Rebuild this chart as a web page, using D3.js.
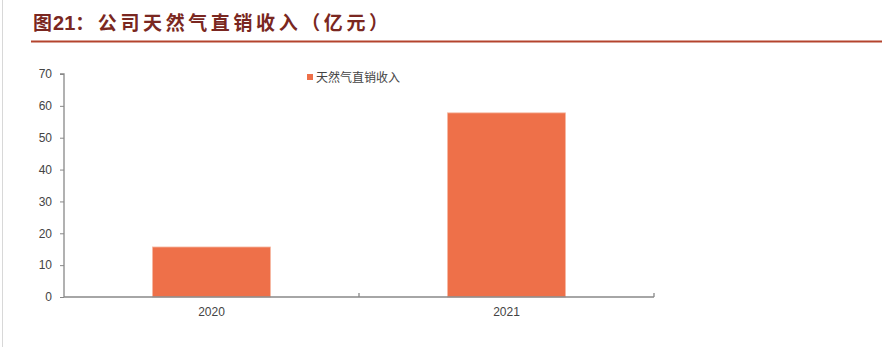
<!DOCTYPE html>
<html><head><meta charset="utf-8">
<script src="https://cdn.jsdelivr.net/npm/d3@7/dist/d3.min.js"></script>
<style>
html,body{margin:0;padding:0;background:#fff;}
svg{display:block;}
</style></head>
<body>
<svg id="chart" width="882" height="347"></svg>
<script>
const titlePrefix = "图";
const titleNumber = "21";
const titleRest = "：公司天然气直销收入（亿元）";
const seriesName = "天然气直销收入";
const categories = ["2020", "2021"];
const values = [15.7, 57.8];
const yTicks = [0, 10, 20, 30, 40, 50, 60, 70];

const svg = d3.select("#chart");
const font = "'Liberation Sans', Arial, 'Noto Sans CJK SC', sans-serif";

// left page border
svg.append("line").attr("x1", 2.5).attr("x2", 2.5).attr("y1", 0).attr("y2", 347)
  .attr("stroke", "#d8d8d8").attr("stroke-width", 1);

// title
const t = svg.append("text").attr("x", 33).attr("y", 30)
  .attr("font-family", "'Noto Sans CJK SC', sans-serif")
  .attr("font-weight", "bold").attr("font-size", 19)
  .attr("fill", "#7a2721");
t.append("tspan").attr("letter-spacing", 1).text(titlePrefix);
t.append("tspan").attr("font-family", "'Liberation Sans', Arial, sans-serif").attr("font-size", 20).attr("letter-spacing", 0).text(titleNumber);
t.append("tspan").attr("letter-spacing", 3.6).text(titleRest);
svg.append("line").attr("x1", 31).attr("x2", 882).attr("y1", 41.5).attr("y2", 41.5)
  .attr("stroke", "#b4442e").attr("stroke-width", 2);

const x0 = 64, x1 = 654, yTop = 74, yBot = 297;
const x = d3.scaleBand().domain(categories).range([x0, x1]).paddingInner(0).paddingOuter(0);
const y = d3.scaleLinear().domain([0, 70]).range([yBot, yTop]);

// bars
const barW = x.bandwidth() * 0.4;
svg.append("g").selectAll("rect").data(values).join("rect")
  .attr("x", (d, i) => x(categories[i]) + (x.bandwidth() - barW) / 2)
  .attr("y", d => y(d))
  .attr("width", barW)
  .attr("height", d => y(0) - y(d))
  .attr("fill", "#ee7049")
  .attr("stroke", "#f6b8a3").attr("stroke-width", 0.8);

// y axis
const yAxis = d3.axisLeft(y).tickValues(yTicks).tickSize(4).tickPadding(8);
const gy = svg.append("g").attr("transform", `translate(${x0},0)`).call(yAxis);
gy.select(".domain").attr("stroke", "#888").attr("stroke-width", 1.3)
  .attr("d", `M-4,${yTop}H0V${yBot}`);
gy.selectAll(".tick line").attr("stroke", "#888");
gy.selectAll(".tick text").attr("font-family", font).attr("font-size", 12).attr("fill", "#444");

// x axis
const gx = svg.append("g").attr("transform", `translate(0,${yBot})`)
  .call(d3.axisBottom(x).tickSize(0).tickPadding(10));
gx.select(".domain").attr("stroke", "#888").attr("stroke-width", 1.6).attr("d", `M${x0},0H${x1}`);
gx.selectAll(".tick text").attr("font-family", font).attr("font-size", 12).attr("fill", "#444");
// category separator ticks
const seps = categories.map(c => x(c) + x.bandwidth());
svg.append("g").selectAll("line").data(seps).join("line")
  .attr("x1", d => d).attr("x2", d => d).attr("y1", yBot - 4).attr("y2", yBot)
  .attr("stroke", "#888").attr("stroke-width", 1.3);

// legend
const lg = svg.append("g").attr("transform", "translate(307,77)");
lg.append("rect").attr("x", 0).attr("y", -3).attr("width", 6).attr("height", 6).attr("fill", "#ee7049");
lg.append("text").attr("x", 9).attr("y", 4.5)
  .attr("font-family", "'Noto Sans CJK SC', sans-serif").attr("font-size", 12)
  .attr("fill", "#444").text(seriesName);
</script>
</body></html>
